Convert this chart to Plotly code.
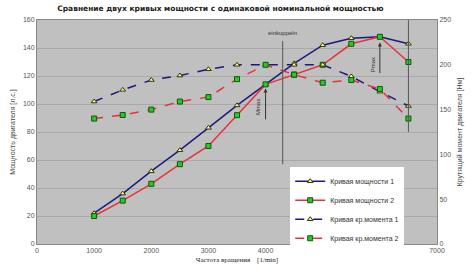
import plotly.graph_objects as go

rpm = [1000, 1500, 2000, 2500, 3000, 3500, 4000, 4500, 5000, 5500, 6000, 6500]
power1 = [22, 36, 52, 67, 83, 99, 114, 129, 142, 147, 148, 143]
power2 = [20, 31, 43, 57, 70, 92, 114, 121, 128, 143, 148, 130]
torque1 = [159, 172, 183, 188, 195, 200, 200, 200, 200, 187, 170, 154]
torque2 = [140, 144, 150, 159, 164, 184, 200, 189, 180, 183, 173, 140]

names = ["Кривая мощности 1", "Кривая мощности 2", "Кривая кр.момента 1", "Кривая кр.момента 2"]
title = "Сравнение двух кривых мощности с одинаковой номинальной мощностью"
xtitle = "Частота вращения    [1/min]"
ytitle = "Мощность двигателя [л.с.]"
y2title = "Крутящий момент двигателя [Нм]"

BLUE = "#1a1a80"
RED = "#e8323a"
tri = dict(symbol="triangle-up", size=5, color="#ffff99", line=dict(color="#333300", width=1))
sq = dict(symbol="square", size=5, color="#22cc22", line=dict(color="#115511", width=1))

fig = go.Figure()
fig.add_trace(go.Scatter(x=rpm, y=power1, name=names[0], mode="lines+markers",
                         line=dict(color=BLUE, width=1.5), marker=tri))
fig.add_trace(go.Scatter(x=rpm, y=power2, name=names[1], mode="lines+markers",
                         line=dict(color=RED, width=1.5), marker=sq))
fig.add_trace(go.Scatter(x=rpm, y=torque1, name=names[2], mode="lines+markers", yaxis="y2",
                         line=dict(color=BLUE, width=1.5, dash="dash"), marker=tri))
fig.add_trace(go.Scatter(x=rpm, y=torque2, name=names[3], mode="lines+markers", yaxis="y2",
                         line=dict(color=RED, width=1.5, dash="dash"), marker=sq))

tickfont = dict(family="Liberation Sans, Arial", size=7, color="#555555")
fig.update_layout(
    width=474, height=274,
    margin=dict(l=30, r=32, t=20, b=29),
    paper_bgcolor="white", plot_bgcolor="#c0c0c0",
    title=dict(text="<b>" + title + "</b>", x=0.465, xanchor="center", y=0.97, yanchor="middle",
               font=dict(family="DejaVu Sans", size=7.5, color="#222222")),
    xaxis=dict(range=[0, 7000], dtick=1000, showgrid=False, tickfont=tickfont,
               showline=True, linecolor="#888888", mirror=True, ticks="", zeroline=False,
               title=dict(text=xtitle, font=dict(family="Liberation Serif", size=7, color="#222222"), standoff=3)),
    yaxis=dict(range=[0, 160], dtick=20, showgrid=True, gridcolor="#a9a9a9", gridwidth=1,
               tickfont=tickfont, showline=True, linecolor="#888888", ticks="", zeroline=False,
               title=dict(text=ytitle, font=dict(family="Liberation Sans", size=7, color="#444444"), standoff=6)),
    yaxis2=dict(range=[0, 250], dtick=50, overlaying="y", side="right", showgrid=False,
                tickfont=tickfont, showline=True, linecolor="#888888", ticks="", zeroline=False,
                title=dict(text=y2title, font=dict(family="Liberation Sans", size=7, color="#444444"), standoff=6)),
    legend=dict(x=0.633, y=0.345, xanchor="left", yanchor="top", bgcolor="white",
                font=dict(family="Liberation Sans", size=7, color="#333333"),
                tracegroupgap=0, itemwidth=30),
    showlegend=True,
)

line_col = "#555555"
fig.add_shape(type="line", xref="x", yref="y", x0=6500, x1=6500, y0=80, y1=160,
              line=dict(color=line_col, width=1))
fig.add_shape(type="line", xref="x", yref="y", x0=4300, x1=4300, y0=57, y1=145,
              line=dict(color=line_col, width=1))
fig.add_annotation(x=4300, y=151, xref="x", yref="y", text="einkuppeln", showarrow=False,
                   font=dict(family="Liberation Sans", size=6, color="#333333"))
fig.add_annotation(x=4000, y=111, ax=4000, ay=88, xref="x", yref="y", axref="x", ayref="y",
                   text="", showarrow=True, arrowhead=2, arrowsize=0.8, arrowwidth=1, arrowcolor="#333333")
fig.add_annotation(x=3870, y=98, xref="x", yref="y", text="Mmax", textangle=-90, showarrow=False,
                   font=dict(family="Liberation Sans", size=6, color="#333333"))
fig.add_annotation(x=6000, y=144, ax=6000, ay=121, xref="x", yref="y", axref="x", ayref="y",
                   text="", showarrow=True, arrowhead=2, arrowsize=0.8, arrowwidth=1, arrowcolor="#333333")
fig.add_annotation(x=5870, y=128, xref="x", yref="y", text="Pmax", textangle=-90, showarrow=False,
                   font=dict(family="Liberation Sans", size=6, color="#333333"))

fig.write_html("out.html")
